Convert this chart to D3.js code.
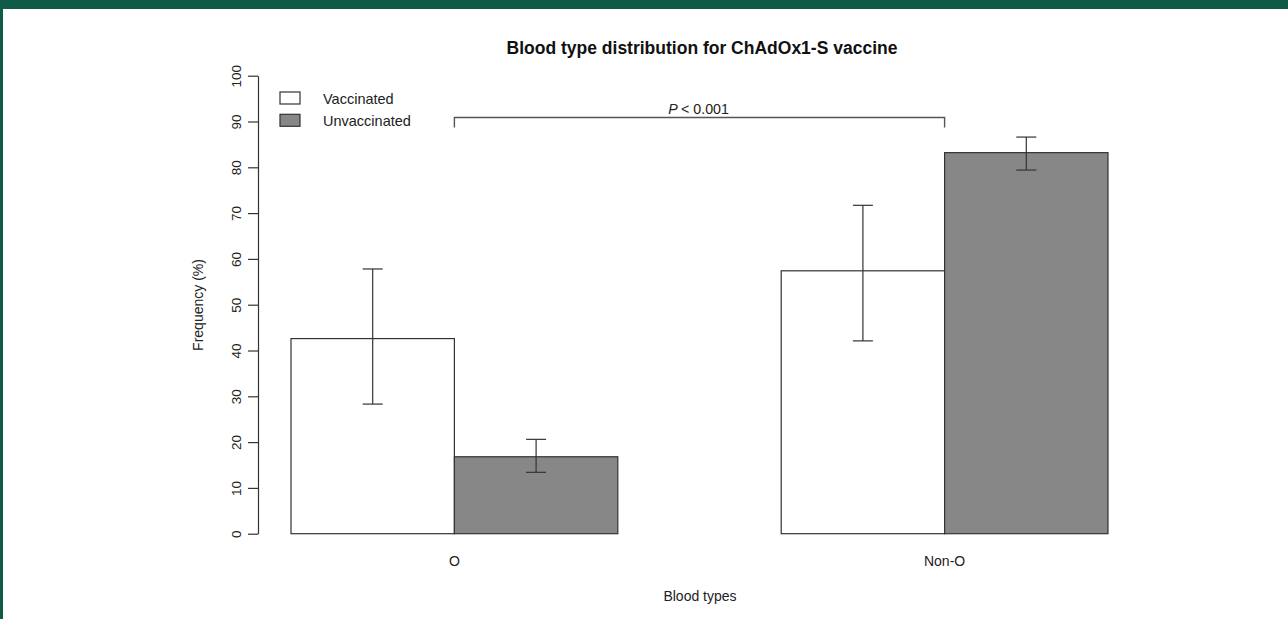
<!DOCTYPE html>
<html lang="en">
  <head>
    <meta charset="UTF-8" />
    <title>Blood type distribution for ChAdOx1-S vaccine</title>
    <script src="https://d3js.org/d3.v7.min.js"></script>
    <style>
      body { margin: 0; background: #fff; }
      svg { display: block; font-family: "Liberation Sans", Arial, sans-serif; }
    </style>
  </head>
  <body>
    <svg width="1288" height="619"></svg>

    <script>
      // data
      const categories = ["O", "Non-O"];
      const seriesNames = ["Vaccinated", "Unvaccinated"];
      const vaccinated = [42.6, 57.4];
      const unvaccinated = [16.8, 83.2];
      const vaccinatedLow = [28.3, 42.1];
      const vaccinatedHigh = [57.8, 71.7];
      const unvaccinatedLow = [13.4, 79.4];
      const unvaccinatedHigh = [20.6, 86.6];
      const yTicks = [0, 10, 20, 30, 40, 50, 60, 70, 80, 90, 100];
      const pLabel = "< 0.001";

      const colors = { Vaccinated: "#ffffff", Unvaccinated: "#878787" };
      const ink = "#333";

      const svg = d3.select("svg");
      const width = +svg.attr("width");
      const height = +svg.attr("height");

      // frame (green banner + left border)
      svg.append("rect").attr("x", 0).attr("y", 0).attr("width", width).attr("height", 9).attr("fill", "#0f5b48");
      svg.append("rect").attr("x", 0).attr("y", 0).attr("width", 3).attr("height", height).attr("fill", "#0f5b48");

      const y = d3.scaleLinear().domain([0, 100]).range([533.7, 75.7]);
      const x0 = d3.scaleBand().domain(categories).range([291, 1108]).paddingInner(1 / 3);
      const x1 = d3.scaleBand().domain(seriesNames).range([0, x0.bandwidth()]);

      const rows = categories.map((c, i) => ({
        cat: c,
        bars: [
          { s: "Vaccinated", v: vaccinated[i], lo: vaccinatedLow[i], hi: vaccinatedHigh[i] },
          { s: "Unvaccinated", v: unvaccinated[i], lo: unvaccinatedLow[i], hi: unvaccinatedHigh[i] }
        ]
      }));

      // bars
      const groups = svg.selectAll(".grp").data(rows).enter().append("g")
        .attr("transform", d => `translate(${x0(d.cat)},0)`);

      groups.selectAll("rect").data(d => d.bars).enter().append("rect")
        .attr("x", d => x1(d.s))
        .attr("y", d => y(d.v))
        .attr("width", x1.bandwidth())
        .attr("height", d => y(0) - y(d.v))
        .attr("fill", d => colors[d.s])
        .attr("stroke", ink)
        .attr("stroke-width", 1.2);

      // error bars
      const cap = 10;
      const err = groups.selectAll(".err").data(d => d.bars).enter().append("g")
        .attr("stroke", ink).attr("stroke-width", 1.2);
      err.append("line")
        .attr("x1", d => x1(d.s) + x1.bandwidth() / 2)
        .attr("x2", d => x1(d.s) + x1.bandwidth() / 2)
        .attr("y1", d => y(d.lo)).attr("y2", d => y(d.hi));
      err.append("line")
        .attr("x1", d => x1(d.s) + x1.bandwidth() / 2 - cap)
        .attr("x2", d => x1(d.s) + x1.bandwidth() / 2 + cap)
        .attr("y1", d => y(d.hi)).attr("y2", d => y(d.hi));
      err.append("line")
        .attr("x1", d => x1(d.s) + x1.bandwidth() / 2 - cap)
        .attr("x2", d => x1(d.s) + x1.bandwidth() / 2 + cap)
        .attr("y1", d => y(d.lo)).attr("y2", d => y(d.lo));

      // y axis (R style)
      const yAxis = svg.append("g")
        .attr("transform", "translate(258,0)")
        .call(d3.axisLeft(y).tickValues(yTicks).tickSize(10).tickSizeOuter(0).tickPadding(4));
      yAxis.select(".domain").attr("stroke", ink).attr("stroke-width", 1.2);
      yAxis.selectAll(".tick line").attr("stroke", ink).attr("stroke-width", 1.2);
      yAxis.selectAll(".tick text")
        .attr("font-size", 13.5)
        .attr("fill", "#222")
        .attr("x", 0).attr("dy", 0)
        .attr("text-anchor", "middle")
        .attr("transform", "translate(-21,0) rotate(-90)")
        .attr("dominant-baseline", "middle");

      // category labels
      svg.selectAll(".cat").data(categories).enter().append("text")
        .attr("x", d => x0(d) + x0.bandwidth() / 2)
        .attr("y", 566)
        .attr("text-anchor", "middle")
        .attr("font-size", 14)
        .attr("fill", "#222")
        .text(d => d);

      // titles
      svg.append("text").attr("x", 702).attr("y", 54).attr("text-anchor", "middle")
        .attr("font-size", 17.5).attr("font-weight", "bold").attr("fill", "#111")
        .text("Blood type distribution for ChAdOx1-S vaccine");
      svg.append("text").attr("x", 700).attr("y", 601).attr("text-anchor", "middle")
        .attr("font-size", 14).attr("fill", "#222").text("Blood types");
      svg.append("text").attr("transform", "translate(203,305) rotate(-90)").attr("text-anchor", "middle")
        .attr("font-size", 14).attr("fill", "#222").text("Frequency (%)");

      // legend
      const legend = svg.append("g").attr("transform", "translate(280,92)");
      const li = legend.selectAll("g").data(seriesNames).enter().append("g")
        .attr("transform", (d, i) => `translate(0,${i * 22.3})`);
      li.append("rect").attr("width", 20).attr("height", 12)
        .attr("fill", d => colors[d]).attr("stroke", ink).attr("stroke-width", 1.2);
      li.append("text").attr("x", 43).attr("y", 11.5).attr("font-size", 14.5).attr("fill", "#222").text(d => d);

      // significance bracket
      const bx1 = x0(categories[0]) + x0.bandwidth() / 2;
      const bx2 = x0(categories[1]) + x0.bandwidth() / 2;
      const by = 117.5;
      svg.append("path")
        .attr("d", `M${bx1},${by + 10}V${by}H${bx2}V${by + 10}`)
        .attr("fill", "none").attr("stroke", "#555").attr("stroke-width", 1.4);
      const pt = svg.append("text").attr("x", (bx1 + bx2) / 2 - 1).attr("y", 113.5)
        .attr("text-anchor", "middle").attr("font-size", 14.2).attr("fill", "#222");
      pt.append("tspan").attr("font-style", "italic").text("P ");
      pt.append("tspan").text(pLabel);
    </script>
  </body>
</html>
